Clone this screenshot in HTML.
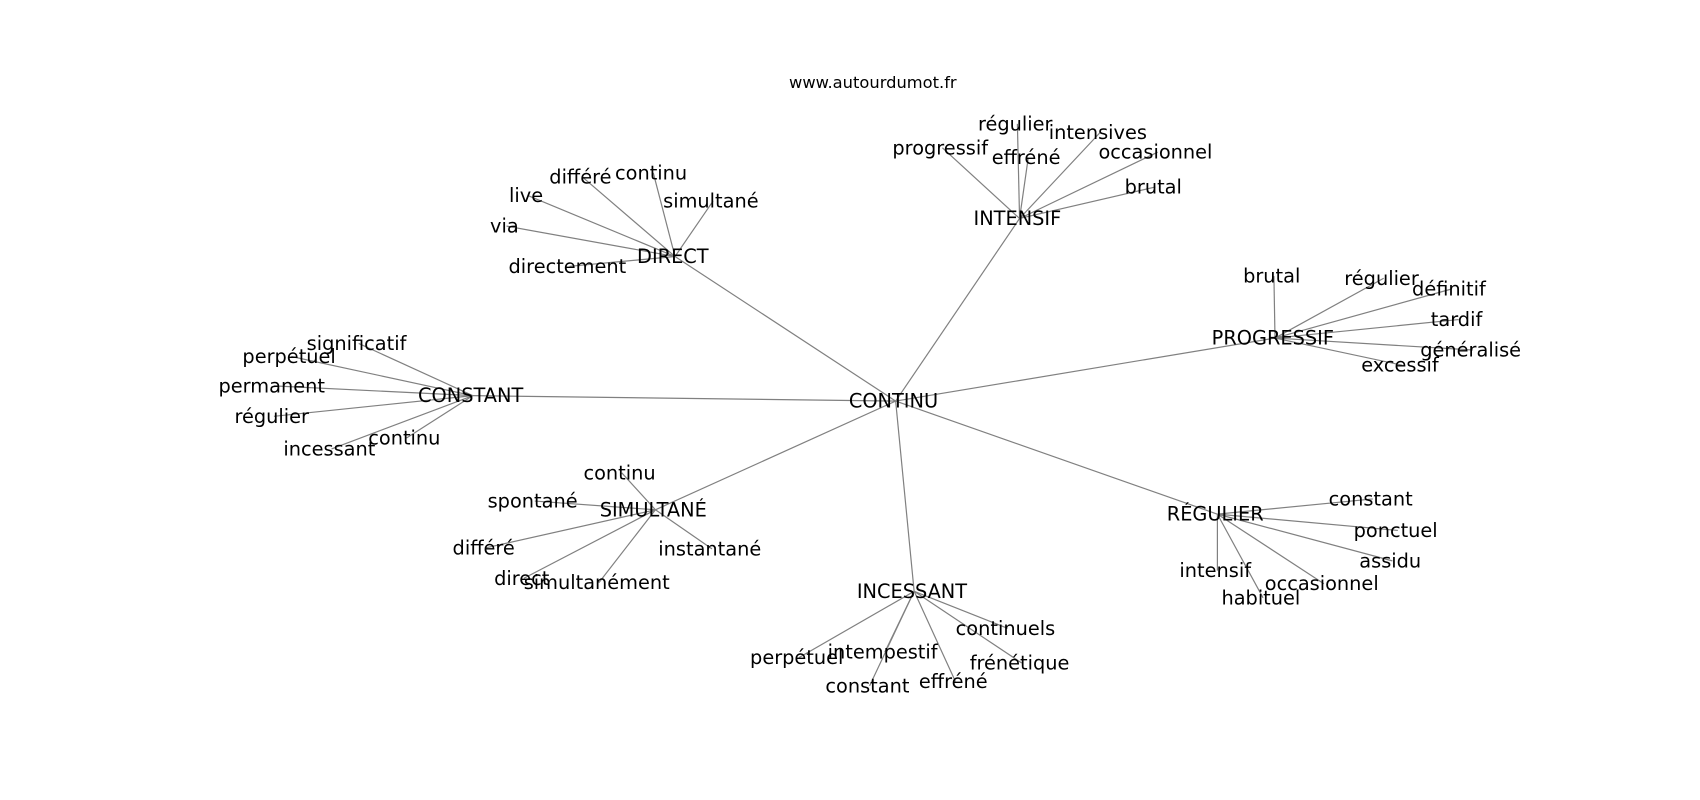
<!DOCTYPE html>
<html><head><meta charset="utf-8"><style>
html,body{margin:0;padding:0;background:#fff;}
svg{display:block;}
text{font-family:"DejaVu Sans","Liberation Sans",sans-serif;font-size:17.8px;fill:#000;text-anchor:middle;dominant-baseline:central;}
line{stroke:#808080;stroke-width:1.1;}
</style></head><body>
<svg width="1700" height="800" viewBox="0 0 1564 736" preserveAspectRatio="none">
<g>
<line x1="824" y1="369" x2="621" y2="236"/>
<line x1="824" y1="369" x2="938" y2="201"/>
<line x1="824" y1="369" x2="1173" y2="311"/>
<line x1="824" y1="369" x2="435" y2="364"/>
<line x1="824" y1="369" x2="603" y2="469"/>
<line x1="824" y1="369" x2="841" y2="544"/>
<line x1="824" y1="369" x2="1120" y2="473"/>

<line x1="621" y1="236" x2="536" y2="163"/>
<line x1="621" y1="236" x2="601" y2="159"/>
<line x1="621" y1="236" x2="656" y2="185"/>
<line x1="621" y1="236" x2="486" y2="180"/>
<line x1="621" y1="236" x2="466" y2="208"/>
<line x1="621" y1="236" x2="524" y2="245"/>

<line x1="938" y1="201" x2="867" y2="136"/>
<line x1="938" y1="201" x2="936" y2="114"/>
<line x1="938" y1="201" x2="946" y2="145"/>
<line x1="938" y1="201" x2="1012" y2="122"/>
<line x1="938" y1="201" x2="1065" y2="140"/>
<line x1="938" y1="201" x2="1063" y2="172"/>

<line x1="1173" y1="311" x2="1172" y2="254"/>
<line x1="1173" y1="311" x2="1273" y2="256"/>
<line x1="1173" y1="311" x2="1335" y2="266"/>
<line x1="1173" y1="311" x2="1342" y2="294"/>
<line x1="1173" y1="311" x2="1355" y2="322"/>
<line x1="1173" y1="311" x2="1290" y2="336"/>

<line x1="435" y1="364" x2="330" y2="316"/>
<line x1="435" y1="364" x2="268" y2="328"/>
<line x1="435" y1="364" x2="252" y2="355"/>
<line x1="435" y1="364" x2="252" y2="383"/>
<line x1="435" y1="364" x2="305" y2="413"/>
<line x1="435" y1="364" x2="374" y2="403"/>

<line x1="603" y1="469" x2="572" y2="435"/>
<line x1="603" y1="469" x2="492" y2="461"/>
<line x1="603" y1="469" x2="447" y2="504"/>
<line x1="603" y1="469" x2="482" y2="532"/>
<line x1="603" y1="469" x2="551" y2="536"/>
<line x1="603" y1="469" x2="655" y2="505"/>

<line x1="841" y1="544" x2="735" y2="605"/>
<line x1="841" y1="544" x2="814" y2="600"/>
<line x1="841" y1="544" x2="800" y2="631"/>
<line x1="841" y1="544" x2="879" y2="627"/>
<line x1="841" y1="544" x2="927" y2="578"/>
<line x1="841" y1="544" x2="940" y2="610"/>

<line x1="1120" y1="473" x2="1263" y2="459"/>
<line x1="1120" y1="473" x2="1286" y2="488"/>
<line x1="1120" y1="473" x2="1281" y2="516"/>
<line x1="1120" y1="473" x2="1120" y2="525"/>
<line x1="1120" y1="473" x2="1162" y2="550"/>
<line x1="1120" y1="473" x2="1218" y2="537"/>
</g>
<g transform="translate(-2,0)">
<text x="805" y="76" style="font-size:15px">www.autourdumot.fr</text>
<text x="824" y="369">CONTINU</text>

<text x="621" y="236">DIRECT</text>
<text x="536" y="163">différé</text>
<text x="601" y="159">continu</text>
<text x="656" y="185">simultané</text>
<text x="486" y="180">live</text>
<text x="466" y="208">via</text>
<text x="524" y="245">directement</text>

<text x="938" y="201">INTENSIF</text>
<text x="867" y="136">progressif</text>
<text x="936" y="114">régulier</text>
<text x="946" y="145">effréné</text>
<text x="1012" y="122">intensives</text>
<text x="1065" y="140">occasionnel</text>
<text x="1063" y="172">brutal</text>

<text x="1173" y="311">PROGRESSIF</text>
<text x="1172" y="254">brutal</text>
<text x="1273" y="256">régulier</text>
<text x="1335" y="266">définitif</text>
<text x="1342" y="294">tardif</text>
<text x="1355" y="322">généralisé</text>
<text x="1290" y="336">excessif</text>

<text x="435" y="364">CONSTANT</text>
<text x="330" y="316">significatif</text>
<text x="268" y="328">perpétuel</text>
<text x="252" y="355">permanent</text>
<text x="252" y="383">régulier</text>
<text x="305" y="413">incessant</text>
<text x="374" y="403">continu</text>

<text x="603" y="469">SIMULTANÉ</text>
<text x="572" y="435">continu</text>
<text x="492" y="461">spontané</text>
<text x="447" y="504">différé</text>
<text x="482" y="532">direct</text>
<text x="551" y="536">simultanément</text>
<text x="655" y="505">instantané</text>

<text x="841" y="544">INCESSANT</text>
<text x="735" y="605">perpétuel</text>
<text x="814" y="600">intempestif</text>
<text x="800" y="631">constant</text>
<text x="879" y="627">effréné</text>
<text x="927" y="578">continuels</text>
<text x="940" y="610">frénétique</text>

<text x="1120" y="473">RÉGULIER</text>
<text x="1263" y="459">constant</text>
<text x="1286" y="488">ponctuel</text>
<text x="1281" y="516">assidu</text>
<text x="1120" y="525">intensif</text>
<text x="1162" y="550">habituel</text>
<text x="1218" y="537">occasionnel</text>
</g>
</svg>
</body></html>
